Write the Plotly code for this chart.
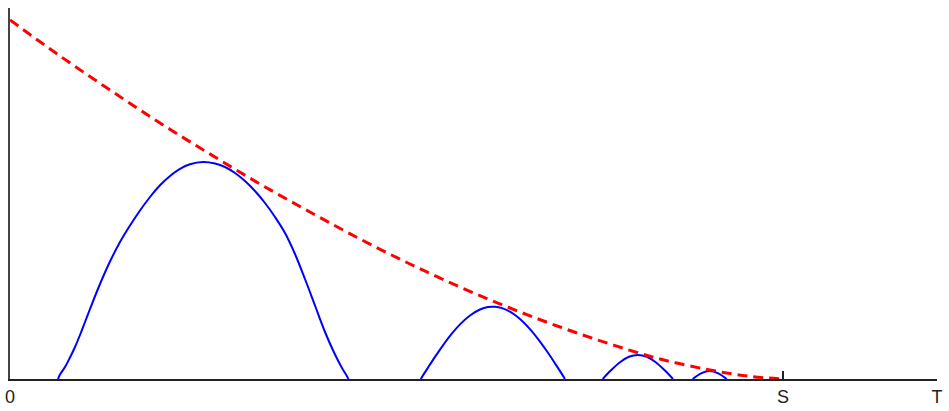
import plotly.graph_objects as go

# Axis extents (arbitrary units)
T_VAL = 927
S_VAL = 773
Y_MAX = 371

tick_vals = [0, S_VAL, T_VAL]
tick_text = ["0", "S", "T"]

# Red dashed envelope
env_x = [0, 50, 100, 150, 200, 250, 300, 350, 400, 450, 500, 550, 600, 650, 700, 740, 773]
env_y = [359, 323, 289, 256, 225, 195, 167, 140, 115, 92, 71, 52, 35, 20, 9, 2.6, 0]

# Blue humps
hump1_x = [48, 50, 55, 60, 65, 70, 75, 80, 90, 100, 110, 120, 130, 140, 150, 160, 170, 180, 193,
           205, 215, 225, 235, 245, 255, 265, 275, 285, 295, 305, 315, 325, 332, 336, 338.5]
hump1_y = [0, 4.5, 12, 21.5, 32, 44, 57, 70, 95, 117.5, 137, 153.5, 168.5, 182, 193.7, 203.1, 210.2, 214.8, 217,
           215.5, 212, 206, 198, 188, 176, 162, 146, 125, 100, 73.5, 47, 24.5, 11, 4.5, 0]

hump2_x = [410.7, 418, 425, 433, 441, 450, 460, 470, 478, 485, 492, 500, 510, 520, 530, 538, 546, 555]
hump2_y = [0, 11.4, 22.1, 33.7, 44.3, 54.6, 63.5, 69.5, 71.9, 72.2, 70.9, 67.3, 60, 49.9, 37.4, 26.2, 14.1, 0]

hump3_x = [592.7, 601, 610, 619, 627.8, 636.7, 645.7, 654.7, 663]
hump3_y = [0, 8.7, 16.8, 22.2, 24, 22.2, 16.8, 8.7, 0]

hump4_x = [682.7, 691, 699.7, 708.3, 716.7]
hump4_y = [0, 5.6, 8, 5.6, 0]

fig = go.Figure()

for hx, hy in [(hump1_x, hump1_y), (hump2_x, hump2_y), (hump3_x, hump3_y), (hump4_x, hump4_y)]:
    fig.add_trace(go.Scatter(x=hx, y=hy, mode="lines",
                             line=dict(color="#0000ff", width=2, shape="spline", smoothing=1.0,
                                       simplify=False),
                             hoverinfo="skip", showlegend=False))

fig.add_trace(go.Scatter(x=env_x, y=env_y, mode="lines",
                         line=dict(color="#ff0000", width=3, dash="10px,6px", shape="spline",
                                   smoothing=1.0, simplify=False),
                         hoverinfo="skip", showlegend=False))

fig.update_layout(
    width=949, height=411,
    margin=dict(l=10, r=12, t=8, b=32, autoexpand=False),
    paper_bgcolor="white", plot_bgcolor="white",
    font=dict(family="Liberation Sans, Arial, sans-serif", size=18, color="#222222"),
    xaxis=dict(range=[0, T_VAL], showgrid=False, zeroline=False, automargin=False,
               showline=True, linecolor="#222222", linewidth=2,
               tickvals=tick_vals, ticktext=tick_text,
               ticks="inside", ticklen=8, tickwidth=2, tickcolor="#222222",
               fixedrange=True),
    yaxis=dict(range=[0, Y_MAX], showgrid=False, zeroline=False, automargin=False,
               showline=True, linecolor="#444444", linewidth=2,
               showticklabels=False, ticks="", fixedrange=True),
)

fig.write_html("out.html", config={"displayModeBar": False},
               post_script="document.body.style.margin='0';document.body.style.overflow='hidden';")
